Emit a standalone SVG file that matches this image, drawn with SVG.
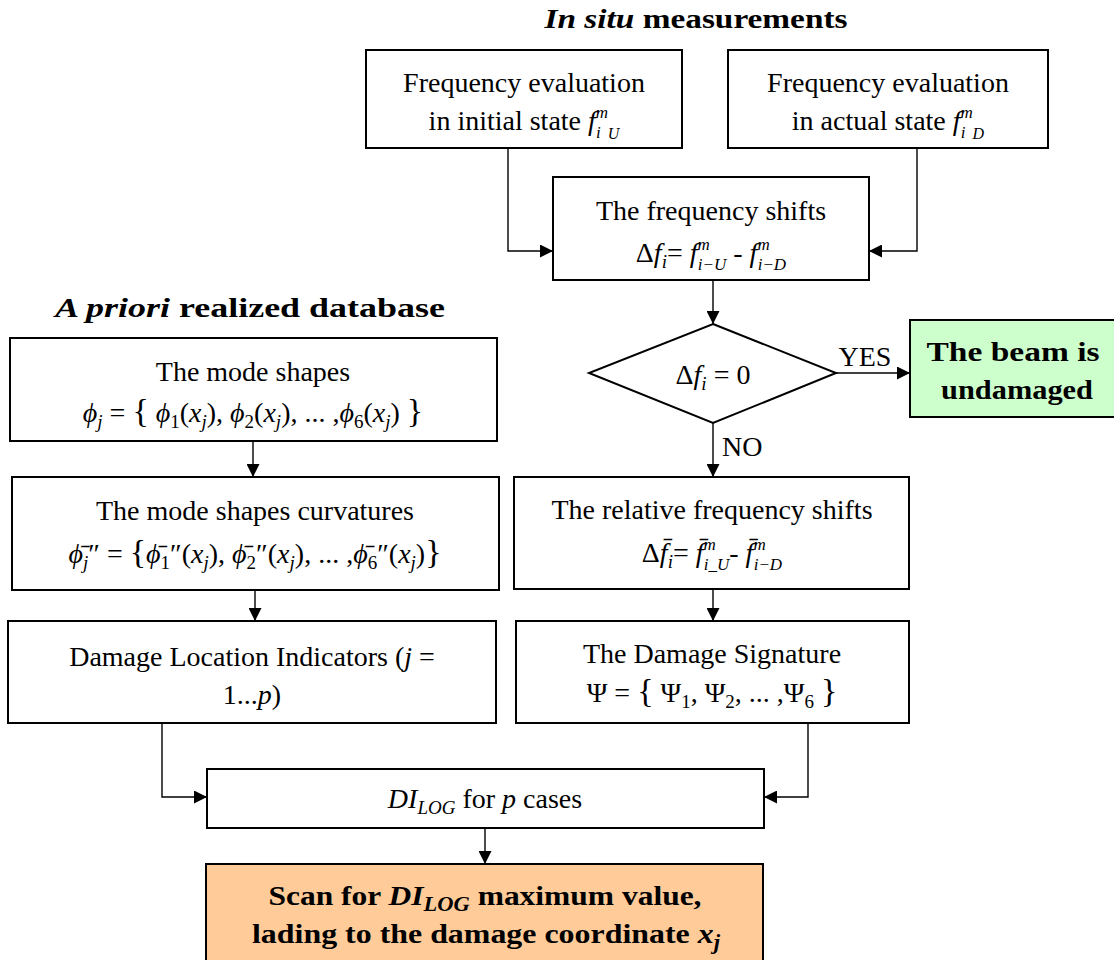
<svg xmlns="http://www.w3.org/2000/svg" width="1114" height="960" viewBox="0 0 1114 960">
<defs>
<style>
.t{font-family:"Liberation Serif","Times New Roman",serif;font-size:28px;fill:#000}
.b{font-weight:bold}
.i{font-style:italic}
.s{font-size:19px}
.ss{font-size:17px}
.box{fill:#fff;stroke:#000;stroke-width:2}
.green{fill:#ccffcc;stroke:#000;stroke-width:2}
.orange{fill:#ffcc99;stroke:#000;stroke-width:2}
.con{fill:none;stroke:#000;stroke-width:1.4}
</style>
<marker id="ah" viewBox="0 0 10 10" refX="10" refY="5" markerWidth="15" markerHeight="13" markerUnits="userSpaceOnUse" orient="auto"><path d="M0,0 L10,5 L0,10 z" fill="#000"/></marker>
</defs>
<rect width="1114" height="960" fill="#fff"/>

<g id="title-insitu">
<text class="t b" x="696" y="28" text-anchor="middle" font-size="30" textLength="303" lengthAdjust="spacingAndGlyphs"><tspan class="i">In situ</tspan> measurements</text>
</g>
<g id="title-apriori">
<text class="t b" x="250" y="317" text-anchor="middle" font-size="30" textLength="390" lengthAdjust="spacingAndGlyphs"><tspan class="i">A priori</tspan> realized database</text>
</g>

<g id="freq-initial">
<rect class="box" x="366" y="50" width="316" height="98"/>
<text class="t" x="524" y="92" text-anchor="middle">Frequency evaluation</text>
<text class="t" x="524" y="130" text-anchor="middle">in initial state  <tspan class="i">f</tspan><tspan class="i ss" dy="-12">m</tspan><tspan class="i ss" dx="-12" dy="20">i</tspan><tspan class="i" font-size="16" dx="7" dy="1">U</tspan></text>
</g>

<g id="freq-actual">
<rect class="box" x="728" y="50" width="320" height="98"/>
<text class="t" x="888" y="92" text-anchor="middle">Frequency evaluation</text>
<text class="t" x="888" y="130" text-anchor="middle">in actual state  <tspan class="i">f</tspan><tspan class="i ss" dy="-12">m</tspan><tspan class="i ss" dx="-12" dy="20">i</tspan><tspan class="i" font-size="16" dx="7" dy="1">D</tspan></text>
</g>

<g id="freq-shifts">
<rect class="box" x="553" y="177" width="316" height="103"/>
<text class="t" x="711" y="220" text-anchor="middle">The frequency shifts</text>
<text class="t" x="711" y="262" text-anchor="middle">Δ<tspan class="i">f</tspan><tspan class="i s" dy="6">i</tspan><tspan dy="-6">=  </tspan><tspan class="i">f</tspan><tspan class="i ss" dy="-12">m</tspan><tspan class="i ss" dx="-12" dy="20">i−U</tspan><tspan dy="-8"> - </tspan><tspan class="i">f</tspan><tspan class="i ss" dy="-12">m</tspan><tspan class="i ss" dx="-12" dy="20">i−D</tspan></text>
</g>

<g id="decision">
<polygon points="713,324 836,373 713,423 589,373" fill="#fff" stroke="#000" stroke-width="2"/>
<text class="t" x="713" y="384" text-anchor="middle">Δ<tspan class="i">f</tspan><tspan class="i s" dy="6">i</tspan><tspan dy="-6"> = 0</tspan></text>
</g>

<g id="undamaged">
<rect class="green" x="910" y="320" width="210" height="97"/>
<text class="t b" x="1013" y="361" text-anchor="middle" font-size="30" textLength="173" lengthAdjust="spacingAndGlyphs">The beam is</text>
<text class="t b" x="1017" y="399" text-anchor="middle" font-size="30" textLength="152" lengthAdjust="spacingAndGlyphs">undamaged</text>
</g>

<g id="mode-shapes">
<rect class="box" x="10" y="338" width="487" height="103"/>
<text class="t" x="253" y="381" text-anchor="middle">The mode shapes</text>
<text class="t" x="253" y="422" text-anchor="middle"><tspan class="i">ϕ</tspan><tspan class="i s" dy="6">j</tspan><tspan dy="-6"> = </tspan><tspan font-size="34">{</tspan><tspan class="i"> ϕ</tspan><tspan class="s" dy="6">1</tspan><tspan dy="-6">(</tspan><tspan class="i">x</tspan><tspan class="i s" dy="6">j</tspan><tspan dy="-6">), </tspan><tspan class="i">ϕ</tspan><tspan class="s" dy="6">2</tspan><tspan dy="-6">(</tspan><tspan class="i">x</tspan><tspan class="i s" dy="6">j</tspan><tspan dy="-6">), ... ,</tspan><tspan class="i">ϕ</tspan><tspan class="s" dy="6">6</tspan><tspan dy="-6">(</tspan><tspan class="i">x</tspan><tspan class="i s" dy="6">j</tspan><tspan dy="-6">) </tspan><tspan font-size="34">}</tspan></text>
</g>

<g id="curvatures">
<rect class="box" x="12" y="477" width="487" height="113"/>
<text class="t" x="255" y="520" text-anchor="middle">The mode shapes curvatures</text>
<text class="t" x="255" y="563" text-anchor="middle"><tspan class="i">ϕ̄</tspan><tspan class="i s" dy="6">j</tspan><tspan dy="-6">″ = </tspan><tspan font-size="34">{</tspan><tspan class="i">ϕ̄</tspan><tspan class="s" dy="6">1</tspan><tspan dy="-6">″(</tspan><tspan class="i">x</tspan><tspan class="i s" dy="6">j</tspan><tspan dy="-6">), </tspan><tspan class="i">ϕ̄</tspan><tspan class="s" dy="6">2</tspan><tspan dy="-6">″(</tspan><tspan class="i">x</tspan><tspan class="i s" dy="6">j</tspan><tspan dy="-6">), ... ,</tspan><tspan class="i">ϕ̄</tspan><tspan class="s" dy="6">6</tspan><tspan dy="-6">″(</tspan><tspan class="i">x</tspan><tspan class="i s" dy="6">j</tspan><tspan dy="-6">)</tspan><tspan font-size="34">}</tspan></text>
</g>

<g id="relative-shifts">
<rect class="box" x="514" y="477" width="395" height="112"/>
<text class="t" x="712" y="519" text-anchor="middle">The relative frequency shifts</text>
<text class="t" x="712" y="562" text-anchor="middle">Δ<tspan class="i">f̄</tspan><tspan class="i s" dy="6">i</tspan><tspan dy="-6">=  </tspan><tspan class="i">f̄</tspan><tspan class="i ss" dy="-12">m</tspan><tspan class="i ss" dx="-12" dy="20">i_U</tspan><tspan dy="-8">- </tspan><tspan class="i">f̄</tspan><tspan class="i ss" dy="-12">m</tspan><tspan class="i ss" dx="-12" dy="20">i−D</tspan></text>
</g>

<g id="dli">
<rect class="box" x="8" y="621" width="488" height="102"/>
<text class="t" x="252" y="666" text-anchor="middle">Damage Location Indicators (<tspan class="i">j</tspan> =</text>
<text class="t" x="252" y="704" text-anchor="middle">1...<tspan class="i">p</tspan>)</text>
</g>

<g id="signature">
<rect class="box" x="516" y="621" width="393" height="102"/>
<text class="t" x="712" y="663" text-anchor="middle">The Damage Signature</text>
<text class="t" x="712" y="702" text-anchor="middle">Ψ = <tspan font-size="34">{</tspan> Ψ<tspan class="s" dy="6">1</tspan><tspan dy="-6">, Ψ</tspan><tspan class="s" dy="6">2</tspan><tspan dy="-6">, ... ,Ψ</tspan><tspan class="s" dy="6">6</tspan><tspan dy="-6"> </tspan><tspan font-size="34">}</tspan></text>
</g>

<g id="dilog">
<rect class="box" x="207" y="769" width="557" height="59"/>
<text class="t" x="485" y="808" text-anchor="middle"><tspan class="i">DI</tspan><tspan class="i s" dy="6">LOG</tspan><tspan dy="-6"> for </tspan><tspan class="i">p</tspan> cases</text>
</g>

<g id="scan">
<rect class="orange" x="206" y="864" width="557" height="100"/>
<text class="t b" x="485" y="905" text-anchor="middle" font-size="30" textLength="433" lengthAdjust="spacingAndGlyphs">Scan for <tspan class="i">DI</tspan><tspan class="i" font-size="20" dy="6">LOG</tspan><tspan dy="-6"> maximum value,</tspan></text>
<text class="t b" x="486" y="943" text-anchor="middle" font-size="30" textLength="468" lengthAdjust="spacingAndGlyphs">lading to the damage coordinate <tspan class="i">x</tspan><tspan class="i" font-size="20" dy="6">j</tspan></text>
</g>

<g id="connectors">
<path class="con" d="M508,148 V251 H553" marker-end="url(#ah)"/>
<path class="con" d="M917,148 V251 H869" marker-end="url(#ah)"/>
<path class="con" d="M713,280 V324" marker-end="url(#ah)"/>
<path class="con" d="M836,373 H910" marker-end="url(#ah)"/>
<path class="con" d="M713,423 V477" marker-end="url(#ah)"/>
<path class="con" d="M253,441 V477" marker-end="url(#ah)"/>
<path class="con" d="M255,590 V621" marker-end="url(#ah)"/>
<path class="con" d="M713,589 V621" marker-end="url(#ah)"/>
<path class="con" d="M162,723 V797 H207" marker-end="url(#ah)"/>
<path class="con" d="M808,723 V797 H764" marker-end="url(#ah)"/>
<path class="con" d="M485,828 V864" marker-end="url(#ah)"/>
<text class="t" x="865" y="366" text-anchor="middle">YES</text>
<text class="t" x="722" y="456">NO</text>
</g>
</svg>
